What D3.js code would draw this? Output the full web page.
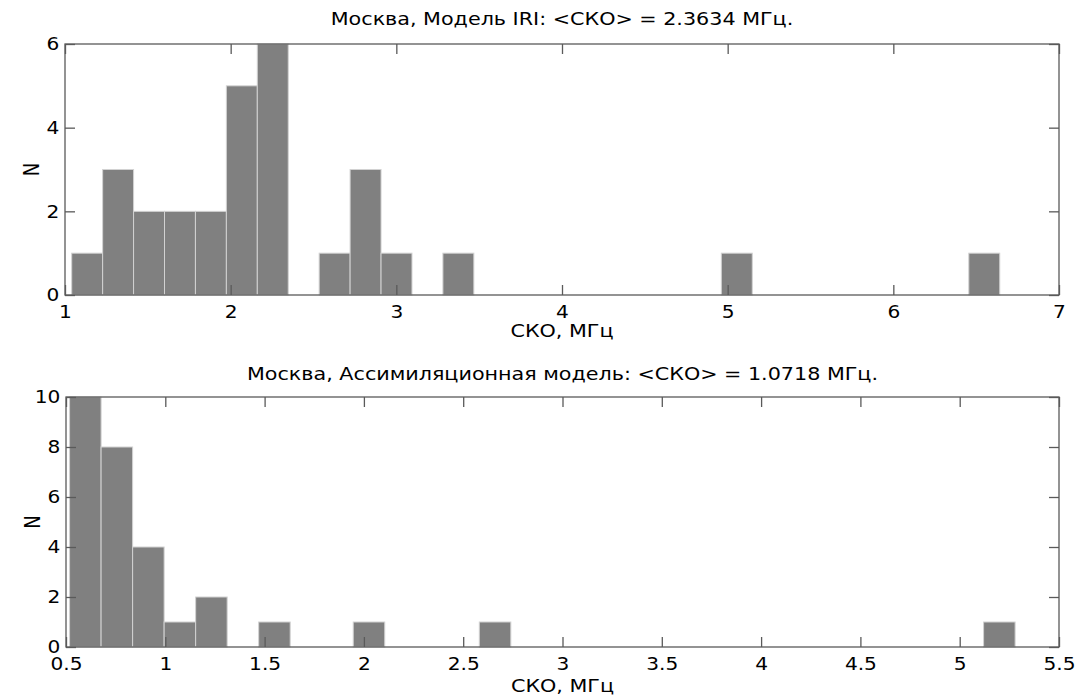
<!DOCTYPE html>
<html>
<head>
<meta charset="utf-8">
<script src="https://cdn.jsdelivr.net/npm/d3@7"></script>
<style>
  html, body { margin: 0; padding: 0; background: #fff; }
  svg text { font-family: "DejaVu Sans", Verdana, sans-serif; fill: #000; }
</style>
</head>
<body>
<svg id="chart" width="1081" height="697"></svg>
<script>
// ---- Data ----
// Panel 1: Moscow, IRI model
const topTitle = "Москва, Модель IRI: <СКО> = 2.3634 МГц.";
const topCounts = [1,3,2,2,2,5,6,0,1,3,1,0,1,0,0,0,0,0,0,0,0,1,0,0,0,0,0,0,0,1];
const topBinRange = [1.0404, 6.6423];
const topXDomain = [1, 7];
const topXTicks = [1, 2, 3, 4, 5, 6, 7];
const topYDomain = [0, 6];
const topYTicks = [0, 2, 4, 6];

// Panel 2: Moscow, assimilation model
const bottomTitle = "Москва, Ассимиляционная модель: <СКО> = 1.0718 МГц.";
const bottomCounts = [10,8,4,1,2,0,1,0,0,1,0,0,0,1,0,0,0,0,0,0,0,0,0,0,0,0,0,0,0,1];
const bottomBinRange = [0.518, 5.279];
const bottomXDomain = [0.5, 5.5];
const bottomXTicks = [0.5, 1, 1.5, 2, 2.5, 3, 3.5, 4, 4.5, 5, 5.5];
const bottomYDomain = [0, 10];
const bottomYTicks = [0, 2, 4, 6, 8, 10];

const xLabel = "СКО, МГц";
const yLabel = "N";

// ---- Drawing ----
const svg = d3.select("#chart");
const tickFont = 18;
const stretch = 1.15;   // the reference's glyphs are a bit wider than DejaVu's

function panel(cfg) {
  const { left, right, top, bottom } = cfg.box;
  const x = d3.scaleLinear().domain(cfg.xDomain).range([left, right]);
  const y = d3.scaleLinear().domain(cfg.yDomain).range([bottom, top]);
  const g = svg.append("g");

  // bins
  const n = cfg.counts.length;
  const w = (cfg.binRange[1] - cfg.binRange[0]) / n;
  const bins = cfg.counts.map((c, i) => ({
    x0: cfg.binRange[0] + i * w,
    x1: cfg.binRange[0] + (i + 1) * w,
    c
  }));

  g.append("g").selectAll("rect").data(bins).join("rect")
    .attr("x", d => x(d.x0))
    .attr("width", d => x(d.x1) - x(d.x0))
    .attr("y", d => y(d.c))
    .attr("height", d => y(0) - y(d.c))
    .attr("fill", "#808080")
    .attr("stroke", "#d2d2d2")
    .attr("stroke-width", 1);

  // box
  g.append("rect")
    .attr("x", left).attr("y", top)
    .attr("width", right - left).attr("height", bottom - top)
    .attr("fill", "none").attr("stroke", "#5a5a5a").attr("stroke-width", 1.3);

  const axisStyle = sel => {
    sel.select(".domain").remove();
    sel.selectAll(".tick line").attr("stroke", "#5a5a5a").attr("stroke-width", 1.3);
  };
  const labelStyle = sel => sel.selectAll("text")
    .attr("font-size", tickFont)
    .attr("transform", `scale(${stretch - 0.03},1)`);

  // bottom axis (labels) with inward ticks
  g.append("g").attr("transform", `translate(0,${bottom})`)
    .call(d3.axisBottom(x).tickValues(cfg.xTicks).tickSize(-10).tickPadding(10)
      .tickFormat(d => String(d)))
    .call(axisStyle)
    .call(labelStyle)
    .attr("font-family", null);
  // top axis ticks only
  g.append("g").attr("transform", `translate(0,${top})`)
    .call(d3.axisTop(x).tickValues(cfg.xTicks).tickSize(-10).tickFormat(""))
    .call(axisStyle);
  // left axis
  g.append("g").attr("transform", `translate(${left},0)`)
    .call(d3.axisLeft(y).tickValues(cfg.yTicks).tickSize(-10).tickPadding(5)
      .tickFormat(d => String(d)))
    .call(axisStyle)
    .call(labelStyle)
    .attr("font-family", null);
  // right axis ticks only
  g.append("g").attr("transform", `translate(${right},0)`)
    .call(d3.axisRight(y).tickValues(cfg.yTicks).tickSize(-10).tickFormat(""))
    .call(axisStyle);

  // title
  g.append("text")
    .attr("transform", `translate(${(left + right) / 2},${top - cfg.titleGap}) scale(${stretch},1)`)
    .attr("text-anchor", "middle").attr("font-size", 18)
    .text(cfg.title);
  // x label
  g.append("text")
    .attr("transform", `translate(${(left + right) / 2},${bottom + cfg.xLabelGap}) scale(${stretch},1)`)
    .attr("text-anchor", "middle").attr("font-size", 18)
    .text(xLabel);
  // y label
  g.append("text")
    .attr("transform", `translate(${left - 26},${(top + bottom) / 2}) scale(${stretch},1) rotate(-90)`)
    .attr("text-anchor", "middle").attr("font-size", 18)
    .text(yLabel);
}

panel({
  box: { left: 65, right: 1059, top: 44, bottom: 295 },
  counts: topCounts, binRange: topBinRange,
  xDomain: topXDomain, xTicks: topXTicks,
  yDomain: topYDomain, yTicks: topYTicks,
  title: topTitle, titleGap: 19, xLabelGap: 42
});

panel({
  box: { left: 66, right: 1059, top: 397, bottom: 647 },
  counts: bottomCounts, binRange: bottomBinRange,
  xDomain: bottomXDomain, xTicks: bottomXTicks,
  yDomain: bottomYDomain, yTicks: bottomYTicks,
  title: bottomTitle, titleGap: 17, xLabelGap: 45
});
</script>
</body>
</html>
